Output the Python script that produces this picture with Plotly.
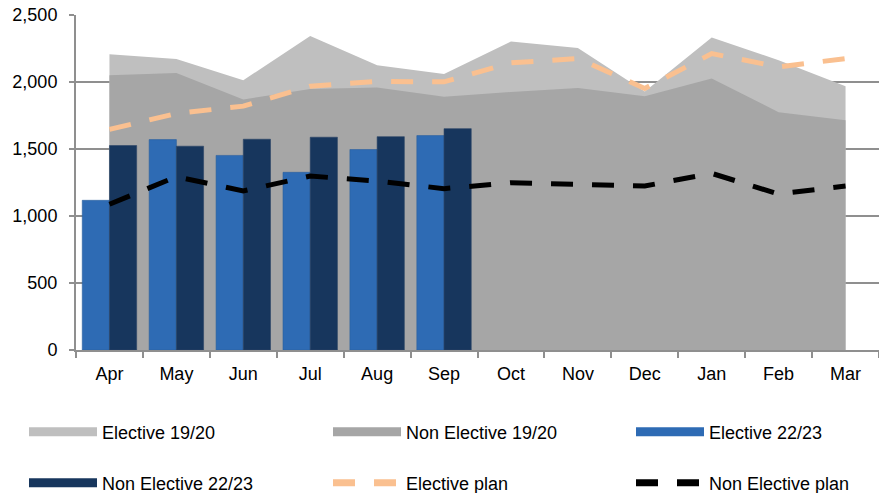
import plotly.graph_objects as go

# Monthly activity, Apr-Mar
months = ["Apr", "May", "Jun", "Jul", "Aug", "Sep", "Oct", "Nov", "Dec", "Jan", "Feb", "Mar"]

elective_1920 = [2207, 2172, 2013, 2344, 2125, 2060, 2302, 2254, 1930, 2332, 2163, 1969]
non_elective_1920 = [2051, 2068, 1870, 1947, 1959, 1889, 1926, 1956, 1894, 2026, 1775, 1715]

elective_2223 = [1117, 1570, 1452, 1326, 1496, 1600]
non_elective_2223 = [1526, 1521, 1573, 1588, 1592, 1652]

elective_plan = [1646, 1765, 1820, 1969, 2004, 2001, 2143, 2175, 1952, 2212, 2113, 2175]
non_elective_plan = [1088, 1293, 1187, 1298, 1261, 1204, 1249, 1241, 1224, 1318, 1164, 1224]

y_ticks = [0, 500, 1000, 1500, 2000, 2500]

C_EL_1920 = "#BFBFBF"
C_NEL_1920 = "#A6A6A6"
C_EL_2223 = "#2E6BB4"
C_NEL_2223 = "#17365D"
C_EL_PLAN = "#FAC090"
C_NEL_PLAN = "#000000"
FONT = "Liberation Sans, Arial, sans-serif"
DASH = "22px,19px"

fig = go.Figure()

# Background areas (base subplot, drawn underneath)
fig.add_trace(go.Scatter(x=months, y=elective_1920, mode="none", fill="tozeroy",
                         fillcolor=C_EL_1920, showlegend=False, xaxis="x", yaxis="y"))
fig.add_trace(go.Scatter(x=months, y=non_elective_1920, mode="none", fill="tozeroy",
                         fillcolor=C_NEL_1920, showlegend=False, xaxis="x", yaxis="y"))

# Bars and plan lines on the overlay subplot so they sit above the areas
fig.add_trace(go.Bar(x=months[:len(elective_2223)], y=elective_2223, marker_color=C_EL_2223,
                     marker_line=dict(color="#2A5F9E", width=0.6),
                     showlegend=False, xaxis="x2", yaxis="y2"))
fig.add_trace(go.Bar(x=months[:len(non_elective_2223)], y=non_elective_2223, marker_color=C_NEL_2223,
                     marker_line=dict(color="#2B4466", width=0.6),
                     showlegend=False, xaxis="x2", yaxis="y2"))
fig.add_trace(go.Scatter(x=months, y=elective_plan, mode="lines",
                         line=dict(color=C_EL_PLAN, width=5, dash=DASH),
                         showlegend=False, xaxis="x2", yaxis="y2"))
fig.add_trace(go.Scatter(x=months, y=non_elective_plan, mode="lines",
                         line=dict(color=C_NEL_PLAN, width=5, dash=DASH),
                         showlegend=False, xaxis="x2", yaxis="y2"))

# Legend entries: one legend per cell of a 3 x 2 grid
legend_items = [
    ("Elective 19/20", C_EL_1920, "solid", 9),
    ("Non Elective 19/20", C_NEL_1920, "solid", 9),
    ("Elective 22/23", C_EL_2223, "solid", 9),
    ("Non Elective 22/23", C_NEL_2223, "solid", 9),
    ("Elective plan", C_EL_PLAN, DASH, 7),
    ("Non Elective plan", C_NEL_PLAN, DASH, 7),
]
legend_cols_px = [24, 328, 631]
legend_rows_px = [432, 483]

legend_layouts = {}
for i, (name, color, dash, w) in enumerate(legend_items):
    key = "legend" if i == 0 else f"legend{i + 1}"
    fig.add_trace(go.Scatter(x=[None], y=[None], mode="lines", name=name,
                             line=dict(color=color, width=w, dash=dash),
                             legend=key, xaxis="x2", yaxis="y2"))
    legend_layouts[key] = dict(
        orientation="h", xref="container", yref="container",
        xanchor="left", yanchor="middle",
        x=legend_cols_px[i % 3] / 879, y=1 - legend_rows_px[i // 3] / 493,
        font=dict(family=FONT, size=18, color="#000000"), itemwidth=68,
        bgcolor="rgba(0,0,0,0)", itemclick=False, itemdoubleclick=False,
    )

cat_range = [-0.5, len(months) - 0.5]
axis_font = dict(family=FONT, size=18, color="#000000")

fig.update_layout(
    width=879, height=493,
    margin=dict(l=76, r=0, t=15, b=143, autoexpand=False),
    paper_bgcolor="white", plot_bgcolor="white",
    barmode="group", bargap=0.187, bargroupgap=0,
    showlegend=True,
    separators=".,",
    xaxis=dict(type="category", categoryarray=months, range=cat_range,
               showgrid=False, showline=False, showticklabels=False, ticks="", zeroline=False),
    yaxis=dict(range=[0, 2500], tickvals=y_ticks, showgrid=True, gridcolor="#8F8F8F",
               gridwidth=1.5, showline=False, showticklabels=False, ticks="", zeroline=False),
    xaxis2=dict(type="category", categoryarray=months, range=cat_range, overlaying="x",
                showgrid=False, showline=True, linecolor="#8F8F8F", linewidth=2,
                ticks="outside", tickson="boundaries", ticklen=6, tickcolor="#8F8F8F",
                tickwidth=1.5, tickfont=axis_font, ticklabelstandoff=6, zeroline=False),
    yaxis2=dict(range=[0, 2500], tickvals=y_ticks, tickformat=",", overlaying="y",
                showgrid=False, showline=True, linecolor="#8F8F8F", linewidth=2,
                ticks="outside", ticklen=5, tickcolor="#8F8F8F", tickwidth=1.5,
                tickfont=axis_font, ticklabelstandoff=8, zeroline=False),
    **legend_layouts,
)

fig.write_html("out.html")
